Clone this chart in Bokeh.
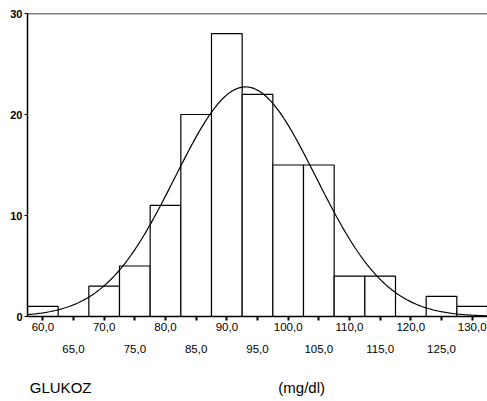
import numpy as np
from bokeh.plotting import figure
from bokeh.models import (ColumnDataSource, LinearAxis, FixedTicker, Range1d,
                          Span)
from bokeh.embed import file_html
from bokeh.resources import INLINE

# ---- data ----
bin_centers = [60, 65, 70, 75, 80, 85, 90, 95, 100, 105, 110, 115, 120, 125, 130]
counts      = [1, 0, 3, 5, 11, 20, 28, 22, 15, 15, 4, 4, 0, 2, 1]
bin_width = 5.0

xticks_row1 = [60, 70, 80, 90, 100, 110, 120, 130]
xlabels_row1 = ["60,0", "70,0", "80,0", "90,0", "100,0", "110,0", "120,0", "130,0"]
xticks_row2 = [65, 75, 85, 95, 105, 115, 125]
xlabels_row2 = ["65,0", "75,0", "85,0", "95,0", "105,0", "115,0", "125,0"]
yticks = [0, 10, 20, 30]

x_title = "GLUKOZ"
unit_title = "(mg/dl)"

FONT = "Liberation Sans"

# ---- normal curve fitted to the binned data ----
c = np.array(bin_centers, float)
n = np.array(counts, float)
N = n.sum()
mean = (c * n).sum() / N
sd = np.sqrt(((c - mean) ** 2 * n).sum() / (N - 1))
xs = np.linspace(57.5, 132.5, 300)
ys = N * bin_width / (sd * np.sqrt(2 * np.pi)) * np.exp(-0.5 * ((xs - mean) / sd) ** 2)

bars = ColumnDataSource(dict(
    left=[v - bin_width / 2 for v in bin_centers],
    right=[v + bin_width / 2 for v in bin_centers],
    top=counts,
    bottom=[0] * len(counts),
))

p = figure(width=487, height=401, output_backend="svg", toolbar_location=None,
           x_range=Range1d(57.5, 132.5), y_range=Range1d(0, 30),
           x_axis_location=None, y_axis_location=None,
           min_border_left=27, min_border_right=0, min_border_top=13,
           min_border_bottom=85)
p.outline_line_color = None
p.xgrid.visible = False
p.ygrid.visible = False
p.background_fill_color = "white"
p.border_fill_color = "white"

p.quad(left="left", right="right", top="top", bottom="bottom", source=bars,
       fill_color="white", line_color="black", line_width=1.2)
p.line(xs, ys, line_color="black", line_width=1.2)

p.add_layout(Span(location=30, dimension="width", line_color="black", line_width=1.5))

# y axis
yax = LinearAxis(ticker=FixedTicker(ticks=yticks))
yax.axis_line_color = "black"
yax.axis_line_width = 1.5
yax.major_tick_out = 3
yax.major_tick_in = 0
yax.minor_tick_out = 0
yax.minor_tick_in = 0
yax.major_label_standoff = 2
yax.major_label_text_font = FONT
yax.major_label_text_font_style = "bold"
yax.major_label_text_font_size = "11px"
yax.major_label_text_color = "black"
p.add_layout(yax, "left")

def plain_axis(ax):
    ax.axis_line_color = None
    ax.major_tick_out = 0
    ax.major_tick_in = 0
    ax.minor_tick_out = 0
    ax.minor_tick_in = 0
    ax.major_label_text_font = FONT
    ax.major_label_text_color = "black"

# x axis, first row
xax1 = LinearAxis(ticker=FixedTicker(ticks=xticks_row1, minor_ticks=xticks_row2))
xax1.major_label_overrides = {t: l for t, l in zip(xticks_row1, xlabels_row1)}
xax1.axis_line_color = "black"
xax1.axis_line_width = 1.5
xax1.major_tick_out = 4
xax1.major_tick_in = 0
xax1.minor_tick_out = 4
xax1.minor_tick_in = 0
xax1.major_tick_line_width = 2
xax1.minor_tick_line_width = 2
xax1.major_label_standoff = 2
xax1.major_label_text_font = FONT
xax1.major_label_text_font_size = "11.5px"
xax1.major_label_text_color = "black"
p.add_layout(xax1, "below")

# x axis, second row
xax2 = LinearAxis(ticker=FixedTicker(ticks=xticks_row2))
xax2.major_label_overrides = {t: l for t, l in zip(xticks_row2, xlabels_row2)}
plain_axis(xax2)
xax2.major_label_standoff = 11
xax2.major_label_text_font_size = "11.5px"
p.add_layout(xax2, "below")

# titles row (variable name and unit), placed as labels of a tickless axis
title_pos = [62.9, 102.2]
xax3 = LinearAxis(ticker=FixedTicker(ticks=title_pos))
xax3.major_label_overrides = {title_pos[0]: x_title, title_pos[1]: unit_title}
plain_axis(xax3)
xax3.major_label_standoff = 23
xax3.major_label_text_font_size = "15px"
p.add_layout(xax3, "below")

open("out.html", "w").write(file_html(p, INLINE))
